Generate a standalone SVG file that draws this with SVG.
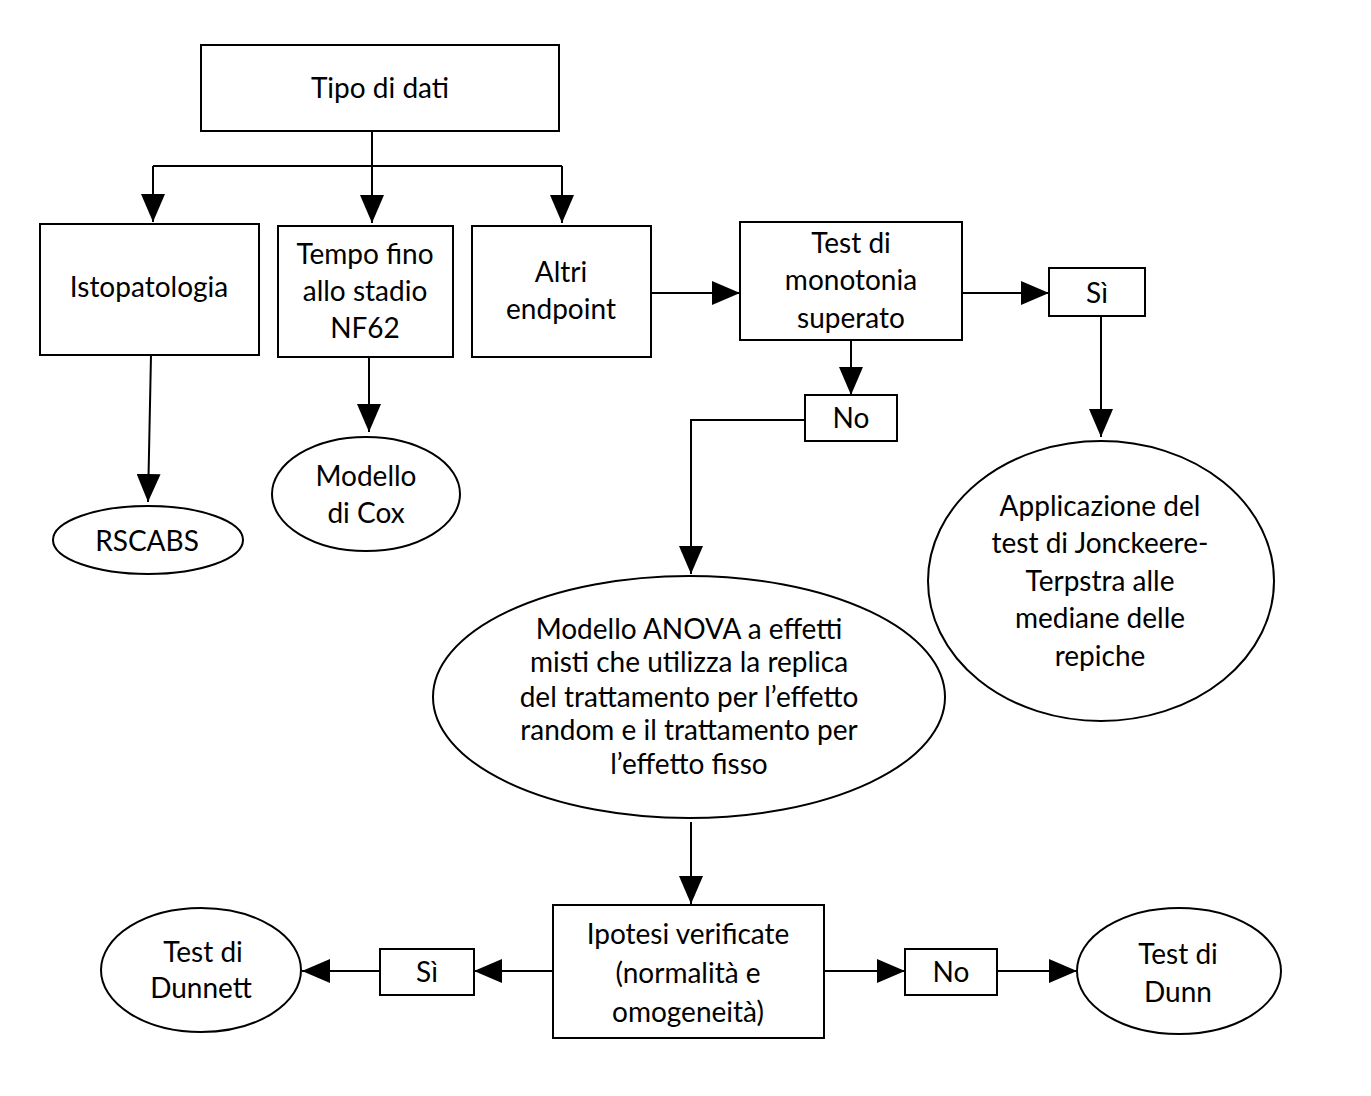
<svg xmlns="http://www.w3.org/2000/svg" width="1371" height="1096" viewBox="0 0 1371 1096">
<style>
.n{fill:#fff;stroke:#000;stroke-width:2}
.t{font-family:Lato,"Open Sans","Liberation Sans",sans-serif;font-size:28px;fill:#000;text-anchor:middle;dominant-baseline:central}
.c{fill:none;stroke:#000;stroke-width:2}
</style>
<defs>
<marker id="a" markerUnits="userSpaceOnUse" markerWidth="28" markerHeight="24" viewBox="0 0 28 24" refX="28" refY="12" orient="auto">
<path d="M0,0L28,12L0,24Z" fill="#000"/>
</marker>
</defs>
<rect width="1371" height="1096" fill="#fff"/>
<g id="connectors">
<path class="c" d="M372,131V166"/>
<path class="c" d="M153,166H562"/>
<path class="c" d="M153,166V222" marker-end="url(#a)"/>
<path class="c" d="M372,166V223" marker-end="url(#a)"/>
<path class="c" d="M562,166V223" marker-end="url(#a)"/>
<path class="c" d="M151,355L148,502" marker-end="url(#a)"/>
<path class="c" d="M369,357V432" marker-end="url(#a)"/>
<path class="c" d="M651,293H740" marker-end="url(#a)"/>
<path class="c" d="M962,293H1049" marker-end="url(#a)"/>
<path class="c" d="M1101,316V437" marker-end="url(#a)"/>
<path class="c" d="M851,340V395" marker-end="url(#a)"/>
<path class="c" d="M805,420H691V574" marker-end="url(#a)"/>
<path class="c" d="M691,822V904" marker-end="url(#a)"/>
<path class="c" d="M553,971H474" marker-end="url(#a)"/>
<path class="c" d="M380,971H302" marker-end="url(#a)"/>
<path class="c" d="M824,971H905" marker-end="url(#a)"/>
<path class="c" d="M997,971H1077" marker-end="url(#a)"/>
</g>
<g id="tipo"><rect class="n" x="201" y="45" width="358" height="86"/><text class="t" x="380" y="87">Tipo di dati</text></g>
<g id="isto"><rect class="n" x="40" y="224" width="219" height="131"/><text class="t" x="149" y="286">Istopatologia</text></g>
<g id="tempo"><rect class="n" x="278" y="226" width="175" height="131"/><text class="t" x="365" y="253">Tempo fino</text><text class="t" x="365" y="290">allo stadio</text><text class="t" x="365" y="327">NF62</text></g>
<g id="altri"><rect class="n" x="472" y="226" width="179" height="131"/><text class="t" x="561" y="271">Altri</text><text class="t" x="561" y="308">endpoint</text></g>
<g id="mono"><rect class="n" x="740" y="222" width="222" height="118"/><text class="t" x="851" y="242">Test di</text><text class="t" x="851" y="279">monotonia</text><text class="t" x="851" y="317">superato</text></g>
<g id="si1"><rect class="n" x="1049" y="268" width="96" height="48"/><text class="t" x="1097" y="292">Sì</text></g>
<g id="no1"><rect class="n" x="805" y="395" width="92" height="46"/><text class="t" x="851" y="417">No</text></g>
<g id="rscabs"><ellipse class="n" cx="148" cy="540" rx="95" ry="34"/><text class="t" x="147" y="540">RSCABS</text></g>
<g id="cox"><ellipse class="n" cx="366" cy="494" rx="94" ry="57"/><text class="t" x="366" y="475">Modello</text><text class="t" x="366" y="512">di Cox</text></g>
<g id="jonck"><ellipse class="n" cx="1101" cy="581" rx="173" ry="140"/><text class="t" x="1100" y="505">Applicazione del</text><text class="t" x="1100" y="542">test di Jonckeere-</text><text class="t" x="1100" y="580">Terpstra alle</text><text class="t" x="1100" y="617">mediane delle</text><text class="t" x="1100" y="655">repiche</text></g>
<g id="anova"><ellipse class="n" cx="689" cy="697" rx="256" ry="121"/><text class="t" x="689" y="628">Modello ANOVA a effetti</text><text class="t" x="689" y="661">misti che utilizza la replica</text><text class="t" x="689" y="696">del trattamento per l’effetto</text><text class="t" x="689" y="729">random e il trattamento per</text><text class="t" x="689" y="763">l’effetto fisso</text></g>
<g id="ipotesi"><rect class="n" x="553" y="905" width="271" height="133"/><text class="t" x="688" y="933">Ipotesi verificate</text><text class="t" x="688" y="972">(normalità e</text><text class="t" x="688" y="1011">omogeneità)</text></g>
<g id="si2"><rect class="n" x="380" y="949" width="94" height="46"/><text class="t" x="427" y="971">Sì</text></g>
<g id="dunnett"><ellipse class="n" cx="201" cy="970" rx="100" ry="62"/><text class="t" x="203" y="951">Test di</text><text class="t" x="201" y="987">Dunnett</text></g>
<g id="no2"><rect class="n" x="905" y="949" width="92" height="46"/><text class="t" x="951" y="971">No</text></g>
<g id="dunn"><ellipse class="n" cx="1179" cy="971" rx="102" ry="63"/><text class="t" x="1178" y="953">Test di</text><text class="t" x="1178" y="991">Dunn</text></g>
</svg>
